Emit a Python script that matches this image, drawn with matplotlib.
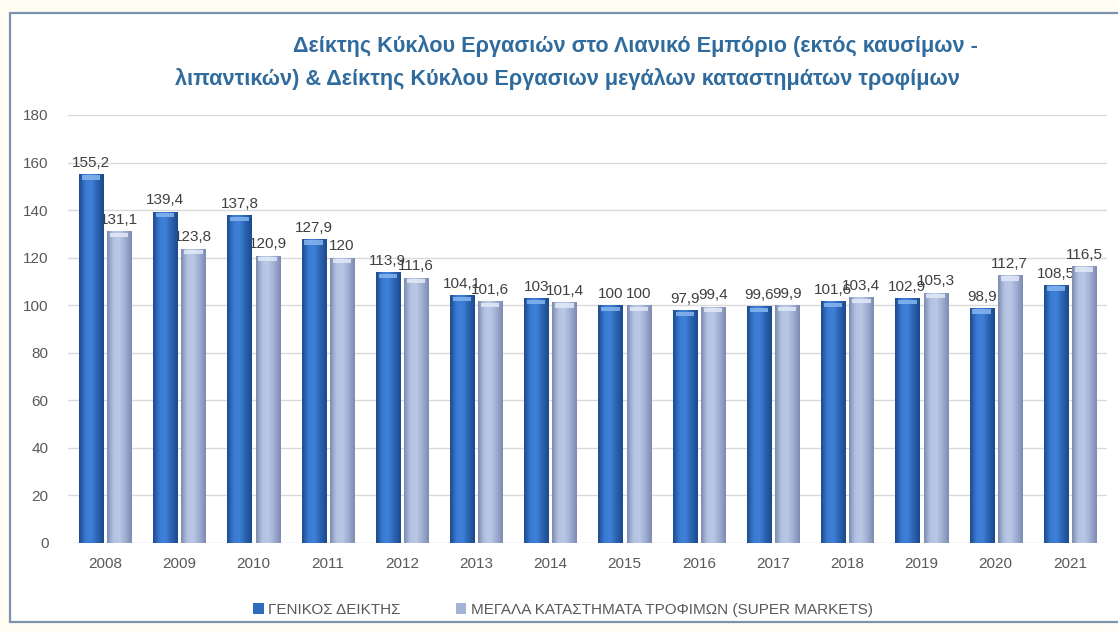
import numpy as np
import matplotlib
matplotlib.use("Agg")
import matplotlib.pyplot as plt
from matplotlib.patches import Rectangle
from matplotlib.colors import LinearSegmentedColormap

years = ["2008", "2009", "2010", "2011", "2012", "2013", "2014",
         "2015", "2016", "2017", "2018", "2019", "2020", "2021"]
general = [155.2, 139.4, 137.8, 127.9, 113.9, 104.1, 103,
           100, 97.9, 99.6, 101.6, 102.9, 98.9, 108.5]
supermarkets = [131.1, 123.8, 120.9, 120, 111.6, 101.6, 101.4,
                100, 99.4, 99.9, 103.4, 105.3, 112.7, 116.5]
series_names = ["ΓΕΝΙΚΟΣ ΔΕΙΚΤΗΣ",
                "ΜΕΓΑΛΑ ΚΑΤΑΣΤΗΜΑΤΑ ΤΡΟΦΙΜΩΝ (SUPER MARKETS)"]
title1 = "Δείκτης Κύκλου Εργασιών στο Λιανικό Εμπόριο (εκτός καυσίμων -"
title2 = "λιπαντικών) & Δείκτης Κύκλου Εργασιων μεγάλων καταστημάτων τροφίμων"

plt.rcParams["font.family"] = ["Liberation Sans Narrow", "Liberation Sans", "DejaVu Sans"]

DARK = "#2f6cc0"
LIGHT = "#a3b3d6"
dark_cmap = LinearSegmentedColormap.from_list("d", ["#1d4a8c", "#3a7ad2", "#3f80d8", "#2a62b0", "#1d4a8c"])
light_cmap = LinearSegmentedColormap.from_list("l", ["#7d8bb0", "#b4c2e2", "#bac8e6", "#9dacd0", "#7d8bb0"])
W = 0.325
OFF = 0.19

fig = plt.figure(figsize=(11.18, 6.31), dpi=100)
fig.patch.set_facecolor("#fffdf4")
# white chart panel with frame, behind the axes
fig.patches.append(Rectangle((10 / 1118, 9 / 631), 1.0, 1 - 22 / 631,
                             transform=fig.transFigure, facecolor="white",
                             edgecolor="#7d93ad", lw=1.6, zorder=-5))

ax = fig.add_axes([68 / 1118, 1 - 543 / 631, 1039 / 1118, 428 / 631])
ax.set_facecolor("none")
x = np.arange(len(years))

b1 = ax.bar(x - OFF, general, W, color=DARK, lw=0, zorder=3)
b2 = ax.bar(x + OFF, supermarkets, W, color=LIGHT, lw=0, zorder=3)

# horizontal shading inside each bar + a light bevel at the top
grad = np.linspace(0, 1, 64).reshape(1, -1)
for bars, cmap, cap in ((b1, dark_cmap, "#86b6ee"), (b2, light_cmap, "#e2eaf7")):
    for p in bars:
        x0, w, h = p.get_x(), p.get_width(), p.get_height()
        im = ax.imshow(grad, cmap=cmap, aspect="auto", extent=(x0, x0 + w, 0, h),
                       zorder=3.5, interpolation="bicubic")
        im.set_clip_path(p)
        ax.add_patch(Rectangle((x0 + w * 0.12, h - 2.4), w * 0.76, 1.8,
                               facecolor=cap, lw=0, alpha=0.85, zorder=4))
ax.set_aspect("auto")

for bars in (b1, b2):
    ax.bar_label(bars, labels=[f"{v:g}".replace(".", ",") for v in bars.datavalues],
                 padding=3, fontsize=11, color="#404040")

ax.set_xlim(-0.5, len(years) - 0.5)
ax.set_ylim(0, 180)
ax.set_yticks(range(0, 181, 20))
ax.set_xticks(x)
ax.set_xticklabels(years)
ax.tick_params(length=0, labelsize=11, colors="#595959")
ax.tick_params(axis="y", pad=14)
ax.tick_params(axis="x", pad=10)
ax.grid(axis="y", color="#d9d9d9", lw=1, zorder=0)
for s in ax.spines.values():
    s.set_visible(False)

tkw = dict(fontsize=15.6, fontweight="bold", color="#2f6b9c", va="center")
fig.text(293 / 1118, 1 - 46 / 631, title1, ha="left", **tkw)
fig.text(175 / 1118, 1 - 79 / 631, title2, ha="left", **tkw)

leg = fig.legend([b1, b2], series_names, loc="center", ncol=2,
                 bbox_to_anchor=(563 / 1118, 1 - 610 / 631), frameon=False,
                 fontsize=11, handlelength=0.7, handleheight=0.7,
                 handletextpad=0.3, columnspacing=3.6)
for t in leg.get_texts():
    t.set_color("#595959")

fig.savefig("out.png", dpi=100, facecolor=fig.get_facecolor())
